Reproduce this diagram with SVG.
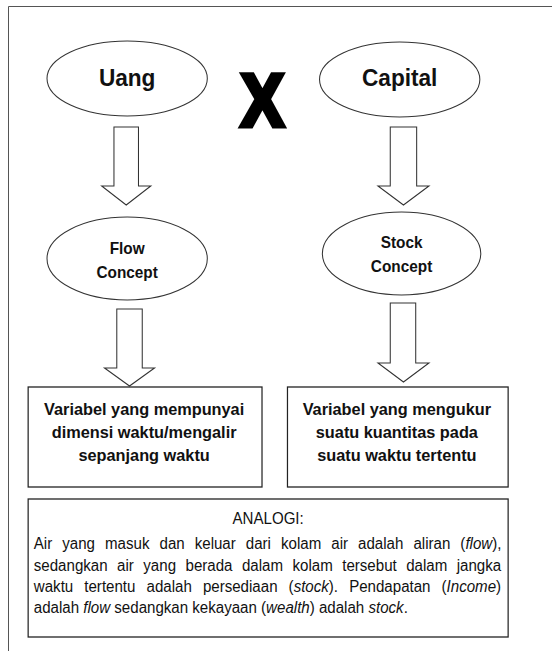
<svg xmlns="http://www.w3.org/2000/svg" width="552" height="651" viewBox="0 0 552 651">
<style>
  .bg { fill: #ffffff; }
  .frame { fill: none; stroke: #555555; stroke-width: 1; }
  .ell { fill: #ffffff; stroke: #333333; stroke-width: 1.1; }
  .box { fill: #ffffff; stroke: #222222; stroke-width: 1.3; }
  .arrow { fill: #ffffff; stroke: #333333; stroke-width: 1.1; stroke-linejoin: miter; }
  .t { font-family: "Liberation Sans", Arial, sans-serif; fill: #111111; text-anchor: middle; }
  .big { font-size: 24px; font-weight: bold; }
  .mid { font-size: 16.3px; font-weight: bold; }
  .var { font-size: 17.3px; font-weight: bold; }
  .body { font-family: "Liberation Sans", Arial, sans-serif; fill: #111111; font-size: 16px; }
  .it { font-style: italic; }
</style>
<rect class="bg" x="0" y="0" width="552" height="651"/>
<path class="frame" d="M8.5,651 V6.5 H552"/>

<g transform="translate(0.8,0) scale(0.943,1)">
<g id="connectors">
  <path class="arrow" d="M120,127 H146 V186 H159 L133,205 L107,186 H120 Z"/>
  <path class="arrow" d="M413,127 H441 V186 H454 L427,205 L400,186 H413 Z"/>
  <path class="arrow" d="M123,309 H150 V368 H163 L136.5,386 L110,368 H123 Z"/>
  <path class="arrow" d="M413,303 H440 V363 H454 L427,382 L400,363 H413 Z"/>
</g>

<g id="uang">
  <ellipse class="ell" cx="134" cy="78.5" rx="85" ry="37.5"/>
  <text class="t big" x="134" y="86">Uang</text>
</g>

<g id="capital">
  <ellipse class="ell" cx="423" cy="79.5" rx="85" ry="37.5"/>
  <text class="t big" x="423" y="86">Capital</text>
</g>

<g id="versus">
  <text class="t" transform="translate(277.5,125.5) scale(0.92,1)" x="0" y="0" style="font-size:74px;font-weight:bold;fill:#000;stroke:#000;stroke-width:5;stroke-linejoin:miter">X</text>
</g>

<g id="flow-concept">
  <ellipse class="ell" cx="134" cy="258.5" rx="85" ry="41.5"/>
  <text class="t mid" x="134" y="254">Flow</text>
  <text class="t mid" x="134" y="278">Concept</text>
</g>

<g id="stock-concept">
  <ellipse class="ell" cx="425" cy="253.5" rx="84" ry="41.5"/>
  <text class="t mid" x="425" y="248">Stock</text>
  <text class="t mid" x="425" y="272">Concept</text>
</g>

<g id="flow-definition">
  <rect class="box" x="29" y="387" width="248" height="100"/>
  <text class="t var" x="152" y="415">Variabel yang mempunyai</text>
  <text class="t var" x="152" y="438">dimensi waktu/mengalir</text>
  <text class="t var" x="152" y="461">sepanjang waktu</text>
</g>

<g id="stock-definition">
  <rect class="box" x="304" y="387" width="234" height="100"/>
  <text class="t var" x="420" y="415">Variabel yang mengukur</text>
  <text class="t var" x="420" y="438">suatu kuantitas pada</text>
  <text class="t var" x="420" y="461">suatu waktu tertentu</text>
</g>

<g id="analogi">
  <rect class="box" x="29" y="499" width="509" height="138"/>
  <text class="t" x="283.5" y="524" style="font-size:16px">ANALOGI:</text>
  <text class="body" x="35" y="549" style="word-spacing:6.2px">Air yang masuk dan keluar dari kolam air adalah aliran (<tspan class="it">flow</tspan>),</text>
  <text class="body" x="35" y="571" style="word-spacing:5.6px">sedangkan air yang berada dalam kolam tersebut dalam jangka</text>
  <text class="body" x="35" y="592" style="word-spacing:7.3px">waktu tertentu adalah persediaan (<tspan class="it">stock</tspan>). Pendapatan (<tspan class="it">Income</tspan>)</text>
  <text class="body" x="35" y="613">adalah <tspan class="it">flow</tspan> sedangkan kekayaan (<tspan class="it">wealth</tspan>) adalah <tspan class="it">stock</tspan>.</text>
</g>
</g>
</svg>
